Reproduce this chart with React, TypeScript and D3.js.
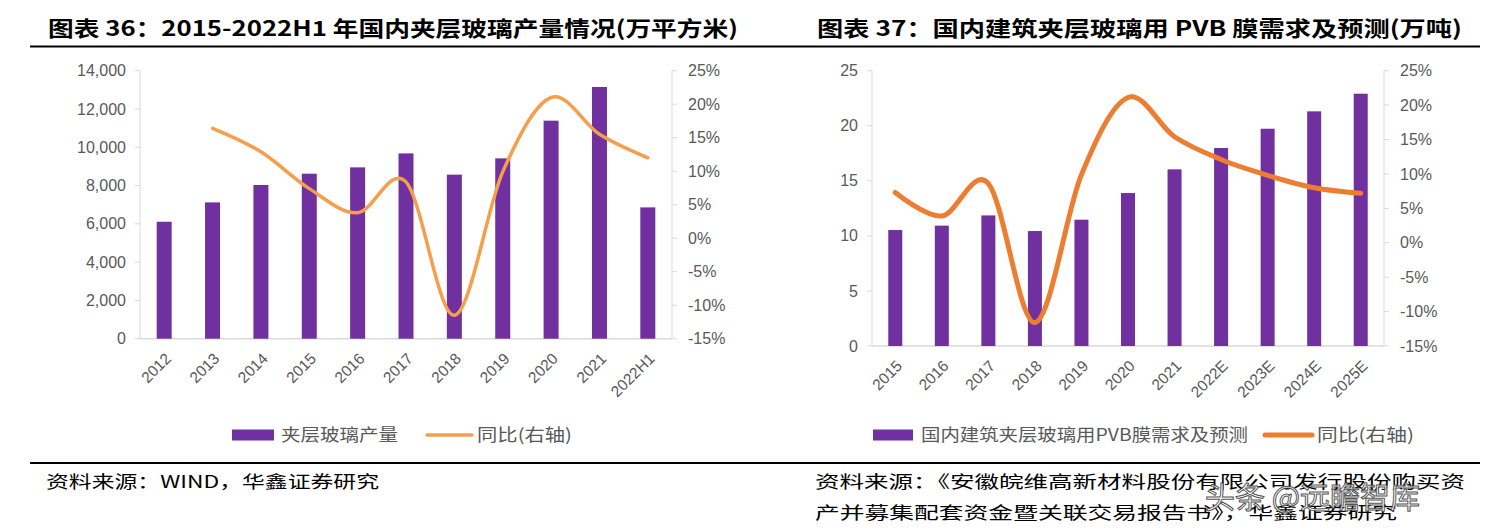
import React from "react";
import * as d3 from "d3";

// ---------- data ----------
const leftCats = ["2012", "2013", "2014", "2015", "2016", "2017", "2018", "2019", "2020", "2021", "2022H1"];
const leftBars = [6110, 7120, 8030, 8620, 8950, 9680, 8570, 9420, 11390, 13150, 6860];
const leftYoY: (number | null)[] = [null, 16.4, 12.9, 7.4, 3.8, 8.4, -11.5, 9.9, 21.0, 15.5, 12.0];
const leftTicksL = [0, 2000, 4000, 6000, 8000, 10000, 12000, 14000];
const pctTicks = [-15, -10, -5, 0, 5, 10, 15, 20, 25];

const rightCats = ["2015", "2016", "2017", "2018", "2019", "2020", "2021", "2022E", "2023E", "2024E", "2025E"];
const rightBars = [10.53, 10.93, 11.86, 10.44, 11.47, 13.89, 16.04, 17.98, 19.73, 21.31, 22.91];
const rightYoY: (number | null)[] = [7.3, 3.9, 8.6, -11.6, 9.9, 21.1, 15.4, 12.1, 9.8, 8.0, 7.2];
const rightTicksL = [0, 5, 10, 15, 20, 25];

const leftTitle = "图表 36：2015-2022H1 年国内夹层玻璃产量情况(万平方米)";
const rightTitle = "图表 37：国内建筑夹层玻璃用 PVB 膜需求及预测(万吨)";
const leftLegend = ["夹层玻璃产量", "同比(右轴)"];
const rightLegend = ["国内建筑夹层玻璃用PVB膜需求及预测", "同比(右轴)"];
const leftSource = "资料来源：WIND，华鑫证券研究";
const rightSource1 = "资料来源：《安徽皖维高新材料股份有限公司发行股份购买资";
const rightSource2 = "产并募集配套资金暨关联交易报告书》，华鑫证券研究";
const watermark = "头条 @远瞻智库";

const PURPLE = "#7030A0";
const AXIS = "#D9D9D9";
const TXT = "#595959";
const CJK = "'Noto Sans CJK SC', 'Noto Sans', sans-serif";
const NUM = "'Liberation Sans', 'DejaVu Sans', sans-serif";

type ChartProps = {
  cats: string[];
  bars: number[];
  yoy: (number | null)[];
  ticksL: number[];
  fmtL: (v: number) => string;
  x0: number;
  x1: number;
  yTop: number;
  yBot: number;
  barW: number;
  lineColor: string;
  lineW: number;
  legend: string[];
  legendX: number[];
  legendY: number;
};

function Chart(p: ChartProps) {
  const x = d3.scaleBand<string>().domain(p.cats).range([p.x0, p.x1]).paddingInner(0).paddingOuter(0);
  const yL = d3.scaleLinear().domain([0, p.ticksL[p.ticksL.length - 1]]).range([p.yBot, p.yTop]);
  const yR = d3.scaleLinear().domain([-15, 25]).range([p.yBot, p.yTop]);
  const cx = (c: string) => (x(c) as number) + x.bandwidth() / 2;

  const pts: [number, number][] = [];
  p.cats.forEach((c, i) => {
    const v = p.yoy[i];
    if (v !== null && v !== undefined) pts.push([cx(c), yR(v)]);
  });
  const line = d3.line<[number, number]>().x((d) => d[0]).y((d) => d[1]).curve(d3.curveCardinal.tension(0));
  const lx = p.legendX;

  return (
    <g>
      <line x1={p.x0} x2={p.x0} y1={p.yTop} y2={p.yBot} stroke={AXIS} strokeWidth={1} />
      <line x1={p.x1} x2={p.x1} y1={p.yTop} y2={p.yBot} stroke={AXIS} strokeWidth={1} />
      <line x1={p.x0} x2={p.x1} y1={p.yBot} y2={p.yBot} stroke={AXIS} strokeWidth={1.5} />
      {p.ticksL.map((t) => (
        <g key={"l" + t}>
          <line x1={p.x0 - 5} x2={p.x0} y1={yL(t)} y2={yL(t)} stroke={AXIS} />
          <text x={p.x0 - 14} y={yL(t)} dy="0.35em" textAnchor="end" fontSize={16} fill={TXT} fontFamily={NUM}>
            {p.fmtL(t)}
          </text>
        </g>
      ))}
      {pctTicks.map((t) => (
        <g key={"r" + t}>
          <line x1={p.x1} x2={p.x1 + 5} y1={yR(t)} y2={yR(t)} stroke={AXIS} />
          <text x={p.x1 + 16} y={yR(t)} dy="0.35em" textAnchor="start" fontSize={16} fill={TXT} fontFamily={NUM}>
            {t + "%"}
          </text>
        </g>
      ))}
      {p.cats.map((c, i) => (
        <rect key={c} x={cx(c) - p.barW / 2} y={yL(p.bars[i])} width={p.barW} height={p.yBot - yL(p.bars[i])} fill={PURPLE} />
      ))}
      {p.cats.map((c) => (
        <text
          key={"x" + c}
          transform={`translate(${cx(c) + 4},${p.yBot + 17}) rotate(-45)`}
          textAnchor="end"
          dy="0.35em"
          fontSize={15.5}
          fill={TXT}
          fontFamily={NUM}
        >
          {c}
        </text>
      ))}
      <path d={line(pts) || ""} fill="none" stroke={p.lineColor} strokeWidth={p.lineW} strokeLinecap="round" strokeLinejoin="round" />
      <rect x={lx[0]} y={p.legendY - 5.5} width={lx[1] - lx[0]} height={11} fill={PURPLE} />
      <text x={lx[2]} y={p.legendY} dy="0.35em" fontSize={17} fill={TXT} fontFamily={CJK} textLength={lx[3] - lx[2]} lengthAdjust="spacingAndGlyphs">
        {p.legend[0]}
      </text>
      <line x1={lx[4]} x2={lx[5]} y1={p.legendY} y2={p.legendY} stroke={p.lineColor} strokeWidth={p.lineW} strokeLinecap="round" />
      <text x={lx[6]} y={p.legendY} dy="0.35em" fontSize={17} fill={TXT} fontFamily={CJK} textLength={lx[7] - lx[6]} lengthAdjust="spacingAndGlyphs">
        {p.legend[1]}
      </text>
    </g>
  );
}

const fmtThousands = (v: number) => (v === 0 ? "0" : d3.format(",")(v));

export default function App() {
  return (
    <svg
      width={1491}
      height={532}
      style={{ position: "absolute", left: 0, top: 0, display: "block", background: "#fff" }}
    >
      <rect x={0} y={0} width={1491} height={532} fill="#fff" />
      <text x={48} y={28} dy="0.36em" fontSize={21} fontWeight="bold" fontFamily={CJK} fill="#000" textLength={690} lengthAdjust="spacingAndGlyphs">
        {leftTitle}
      </text>
      <text x={817} y={28} dy="0.36em" fontSize={21} fontWeight="bold" fontFamily={CJK} fill="#000" textLength={645} lengthAdjust="spacingAndGlyphs">
        {rightTitle}
      </text>
      <line x1={30} x2={1480} y1={46.5} y2={46.5} stroke="#000" strokeWidth={2} />

      <Chart
        cats={leftCats}
        bars={leftBars}
        yoy={leftYoY}
        ticksL={leftTicksL}
        fmtL={fmtThousands}
        x0={140}
        x1={672}
        yTop={70.7}
        yBot={338.7}
        barW={15}
        lineColor="#F59E4C"
        lineW={3.5}
        legend={leftLegend}
        legendX={[232, 274, 281, 398, 427, 472, 477, 572]}
        legendY={435}
      />
      <Chart
        cats={rightCats}
        bars={rightBars}
        yoy={rightYoY}
        ticksL={rightTicksL}
        fmtL={(v) => String(v)}
        x0={872}
        x1={1384}
        yTop={70.7}
        yBot={346}
        barW={14}
        lineColor="#ED7D31"
        lineW={5}
        legend={rightLegend}
        legendX={[873, 913, 921, 1248, 1265, 1312, 1317, 1414]}
        legendY={435}
      />

      <line x1={30} x2={1480} y1={463} y2={463} stroke="#000" strokeWidth={2} />
      <text x={46} y={482} dy="0.36em" fontSize={17} fontFamily={CJK} fill="#000" textLength={333} lengthAdjust="spacingAndGlyphs">
        {leftSource}
      </text>
      <text x={815} y={482} dy="0.36em" fontSize={17} fontFamily={CJK} fill="#000" textLength={650} lengthAdjust="spacingAndGlyphs">
        {rightSource1}
      </text>
      <text x={815} y={513} dy="0.36em" fontSize={17} fontFamily={CJK} fill="#000" textLength={582} lengthAdjust="spacingAndGlyphs">
        {rightSource2}
      </text>
      <text x={1205} y={497} dy="0.36em" fontSize={30} fontFamily={CJK} fill="#fff" stroke="#444" strokeWidth={1} opacity={0.9}>
        {watermark}
      </text>
    </svg>
  );
}
